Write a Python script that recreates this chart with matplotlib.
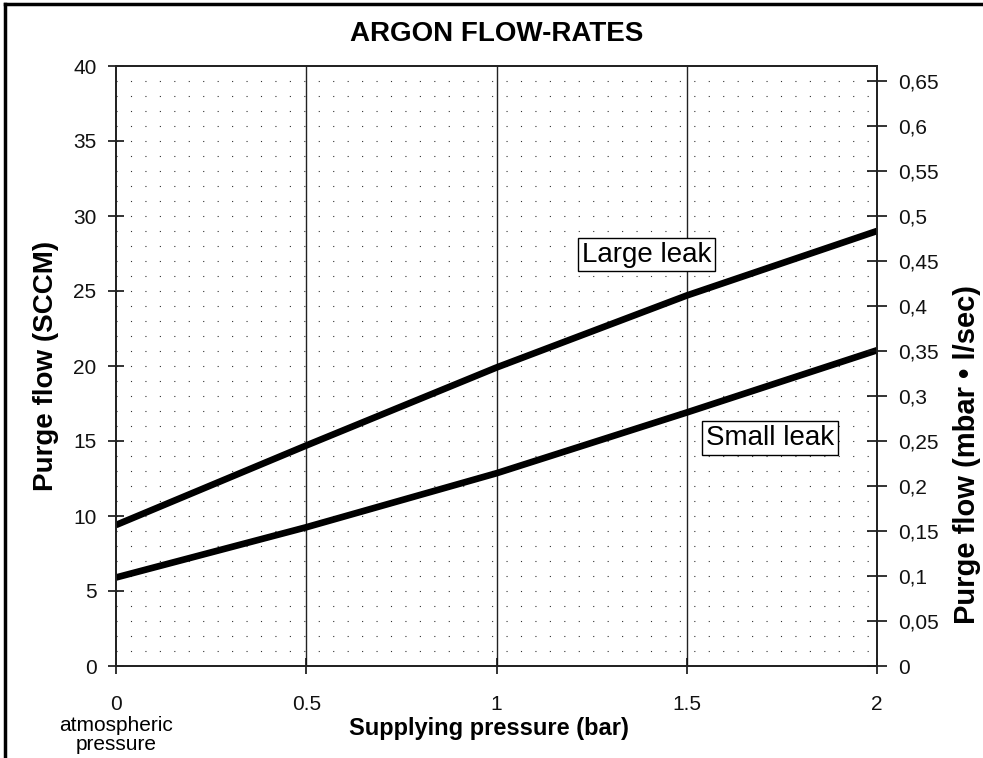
import matplotlib
matplotlib.use("Agg")
import matplotlib.pyplot as plt
from matplotlib.lines import Line2D
import numpy as np

plt.rcParams['font.family'] = ['Liberation Sans', 'DejaVu Sans']

# ---- data ----
pressure = [0.0, 0.5, 1.0, 1.5, 2.0]
large_leak = [9.4, 14.7, 19.9, 24.7, 29.0]
small_leak = [5.9, 9.25, 12.85, 16.9, 21.05]
x_ticks = [0, 0.5, 1, 1.5, 2]
x_tick_labels = ["0", "0.5", "1", "1.5", "2"]
y_ticks = [0, 5, 10, 15, 20, 25, 30, 35, 40]
y2_ticks = [0, 0.05, 0.1, 0.15, 0.2, 0.25, 0.3, 0.35, 0.4, 0.45, 0.5, 0.55, 0.6, 0.65]
y2_tick_labels = ["0", "0,05", "0,1", "0,15", "0,2", "0,25", "0,3", "0,35",
                  "0,4", "0,45", "0,5", "0,55", "0,6", "0,65"]
sccm_per_unit = 60.0  # SCCM per mbar*l/sec

W, H = 983, 758
fig = plt.figure(figsize=(W / 100, H / 100), dpi=100)
ax = fig.add_axes([116 / W, 92 / H, 761 / W, 600 / H])

ax.set_xlim(0, 2)
ax.set_ylim(0, 40)

# dotted horizontal grid every 1 unit
for yv in np.arange(1, 40):
    ax.axhline(yv, color='#333333', lw=0.8, ls=(0, (1, 12)), zorder=1)
# solid vertical grid
for xv in [0.5, 1.0, 1.5]:
    ax.axvline(xv, color='#222222', lw=1.0, zorder=1.5)

ax.plot(pressure, large_leak, color='black', lw=4.8, solid_capstyle='butt', zorder=3)
ax.plot(pressure, small_leak, color='black', lw=4.8, solid_capstyle='butt', zorder=3)

box = dict(boxstyle='square,pad=0.14', fc='white', ec='black', lw=1.0)
ax.text(1.394, 27.43, "Large leak", fontsize=20, ha='center', va='center', bbox=box, zorder=4)
ax.text(1.719, 15.2, "Small leak", fontsize=20, ha='center', va='center', bbox=box, zorder=4)

for s in ax.spines.values():
    s.set_color('#222222')
    s.set_linewidth(1.3)

ax.set_xticks(x_ticks)
ax.set_xticklabels(x_tick_labels)
ax.set_yticks(y_ticks)
ax.tick_params(axis='both', direction='inout', length=12, width=1.2, labelsize=15, colors='#111111')
ax.tick_params(axis='x', pad=15)
ax.tick_params(axis='y', pad=8)

ax2 = ax.twinx()
ax2.set_ylim(0, 40 / sccm_per_unit)
ax2.set_yticks(y2_ticks)
ax2.set_yticklabels(y2_tick_labels)
ax2.tick_params(axis='y', direction='inout', length=14, width=1.2, labelsize=15, pad=8, colors='#111111')
for s in ax2.spines.values():
    s.set_color('#222222')
    s.set_linewidth(1.3)

ax.set_title("ARGON FLOW-RATES", fontsize=20, fontweight='bold', pad=18)
ax.set_xlabel("Supplying pressure (bar)", fontsize=17, fontweight='bold')
ax.xaxis.set_label_coords(0.49, -0.104)
ax.xaxis.label.set_va('center')
ax.set_ylabel("Purge flow (SCCM)", fontsize=20, fontweight='bold')
ax.yaxis.set_label_coords(-0.092, 0.5)
ax.yaxis.label.set_va('center')
ax2.set_ylabel("Purge flow (mbar \u2022 l/sec)", fontsize=21, fontweight='bold')
ax2.yaxis.set_label_coords(1.118, 0.352)
ax2.yaxis.label.set_va('center')
ax2.yaxis.label.set_rotation(90)

ax.text(0, -0.083, "atmospheric\npressure", transform=ax.get_xaxis_transform(),
        fontsize=15, ha='center', va='top', linespacing=1.0)

# figure border (left and top edges)
fig.add_artist(Line2D([5 / W, 5 / W], [0, 1 - 4 / H], color='black', lw=2.5, transform=fig.transFigure))
fig.add_artist(Line2D([5 / W, 1], [1 - 4 / H, 1 - 4 / H], color='black', lw=2.5, transform=fig.transFigure))

fig.savefig("out.png", dpi=100)
